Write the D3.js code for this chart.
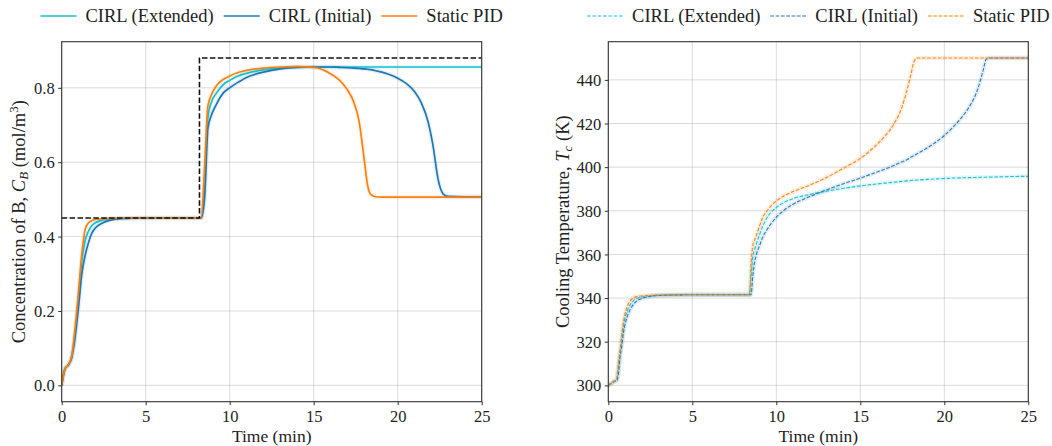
<!DOCTYPE html>
<html><head><meta charset="utf-8">
<script src="https://cdn.jsdelivr.net/npm/d3@7"></script>
<style>
body{margin:0;background:#fff}
svg{display:block}
text{font-family:"Liberation Serif","Times New Roman",serif;fill:#222}
</style>
</head><body>
<svg id="c" width="1052" height="446"></svg>
<script>
// ---------------- data ----------------
const seriesNames = ["CIRL (Extended)", "CIRL (Initial)", "Static PID"];
const seriesColors = ["#17becf", "#1f77b4", "#ff7f0e"];
const xTicks = [0, 5, 10, 15, 20, 25];
const cbTicks = [0.0, 0.2, 0.4, 0.6, 0.8];
const tcTicks = [300, 320, 340, 360, 380, 400, 420, 440];

// Concentration of B (left panel)
const tB = [0, 0.2, 0.4, 0.6, 0.8, 1.0, 1.2, 1.4, 1.6, 1.8, 2.0, 2.4, 2.8, 3.5, 5, 8.3, 8.5, 8.7, 8.9, 9.2, 9.6, 10, 10.5, 11, 12, 13, 14, 15, 16, 16.5, 17, 17.4, 17.7, 18.0, 18.2, 18.4, 18.7, 19, 19.5, 20, 20.5, 21, 21.4, 21.8, 22.1, 22.4, 22.7, 23, 24, 25];
const cbExt = [0, 0.045, 0.055, 0.078, 0.14, 0.24, 0.335, 0.39, 0.415, 0.43, 0.437, 0.444, 0.447, 0.449, 0.45, 0.45, 0.53, 0.72, 0.76, 0.785, 0.808, 0.82, 0.832, 0.839, 0.848, 0.853, 0.855, 0.856, 0.856, 0.856, 0.856, 0.856, 0.856, 0.856, 0.856, 0.856, 0.856, 0.856, 0.856, 0.856, 0.856, 0.856, 0.856, 0.856, 0.856, 0.856, 0.856, 0.856, 0.856, 0.856];
const cbInit = [0, 0.045, 0.055, 0.075, 0.13, 0.21, 0.30, 0.35, 0.385, 0.41, 0.423, 0.436, 0.443, 0.448, 0.45, 0.45, 0.50, 0.69, 0.725, 0.755, 0.785, 0.80, 0.815, 0.828, 0.842, 0.851, 0.855, 0.856, 0.856, 0.855, 0.854, 0.853, 0.852, 0.851, 0.85, 0.849, 0.846, 0.843, 0.836, 0.826, 0.812, 0.79, 0.76, 0.71, 0.645, 0.555, 0.515, 0.508, 0.507, 0.507];
const cbPid = [0, 0.045, 0.055, 0.08, 0.155, 0.25, 0.355, 0.42, 0.437, 0.443, 0.446, 0.448, 0.449, 0.45, 0.45, 0.45, 0.58, 0.75, 0.78, 0.805, 0.822, 0.832, 0.841, 0.847, 0.853, 0.856, 0.857, 0.855, 0.838, 0.822, 0.795, 0.76, 0.71, 0.61, 0.54, 0.513, 0.507, 0.506, 0.506, 0.506, 0.506, 0.506, 0.506, 0.506, 0.506, 0.506, 0.506, 0.506, 0.506, 0.506];
const spT = [0, 8.2, 25];
const spV = [0.45, 0.88, 0.88];

// Cooling temperature (right panel)
const tT = [0, 0.2, 0.4, 0.5, 0.6, 0.7, 0.8, 0.9, 1.0, 1.2, 1.4, 1.6, 2.0, 2.5, 3, 5, 8.4, 8.5, 8.6, 8.7, 8.8, 9.0, 9.2, 9.5, 10, 10.5, 11, 12, 13, 14, 15, 16, 16.5, 17, 17.5, 17.8, 18.0, 18.2, 18.4, 19, 20, 20.5, 21, 21.5, 22, 22.3, 22.5, 22.7, 23, 24, 25];
const tcExt = [300, 301, 302, 302.5, 308, 315, 321, 327, 331, 335.5, 338, 339.5, 340.5, 341, 341.3, 341.5, 341.5, 350, 359, 362, 364.5, 369, 373, 377.5, 381.5, 384, 385.6, 387.5, 389, 390.3, 391.4, 392.3, 392.7, 393.1, 393.5, 393.7, 393.9, 394, 394.1, 394.4, 394.8, 395, 395.1, 395.2, 395.3, 395.4, 395.4, 395.45, 395.5, 395.7, 395.8];
const tcInit = [300, 301, 302, 302, 305, 313, 318, 324, 328, 333, 336, 338, 339.8, 340.8, 341.2, 341.5, 341.5, 341.5, 350, 356, 359.5, 364, 368, 372, 377, 380.5, 383, 386.5, 389.6, 392.4, 395, 397.8, 399.2, 400.8, 402.5, 403.5, 404.5, 405.3, 406.2, 408.9, 414.5, 418.2, 422.5, 427.8, 436, 444, 449.5, 450, 450, 450, 450];
const tcPid = [300, 301, 302, 303, 310, 316, 323, 329, 333, 337.5, 339.5, 340.5, 341, 341.2, 341.4, 341.5, 341.5, 356, 364, 366.5, 368.5, 373, 377, 380.5, 384.5, 387, 388.8, 391.8, 395.3, 399.5, 404, 410.5, 414.5, 419.8, 428, 436, 442, 448.5, 450, 450, 450, 450, 450, 450, 450, 450, 450, 450, 450, 450, 450];

// ---------------- drawing ----------------
const svg = d3.select("#c");

function panel(opt) {
  const g = svg.append("g");
  const x = d3.scaleLinear().domain([0, 25]).range([opt.x0, opt.x1]);
  const y = d3.scaleLinear().domain(opt.yDomain).range([opt.y1, opt.y0]);

  // grid
  g.append("g").selectAll("line").data(xTicks).join("line")
    .attr("x1", d => x(d)).attr("x2", d => x(d)).attr("y1", opt.y0).attr("y2", opt.y1)
    .attr("stroke", "#b0b0b0").attr("stroke-opacity", 0.45).attr("stroke-width", 1);
  g.append("g").selectAll("line").data(opt.yTicks).join("line")
    .attr("x1", opt.x0).attr("x2", opt.x1).attr("y1", d => y(d)).attr("y2", d => y(d))
    .attr("stroke", "#b0b0b0").attr("stroke-opacity", 0.45).attr("stroke-width", 1);

  // axes
  const xa = g.append("g").attr("transform", `translate(0,${opt.y1})`)
    .call(d3.axisBottom(x).tickValues(xTicks).tickFormat(d3.format("d")).tickSize(3.5).tickPadding(4));
  const ya = g.append("g").attr("transform", `translate(${opt.x0},0)`)
    .call(d3.axisLeft(y).tickValues(opt.yTicks).tickFormat(opt.fmt).tickSize(3.5).tickPadding(3.5));
  [xa, ya].forEach(a => {
    a.select(".domain").remove();
    a.selectAll("line").attr("stroke", "#333");
    a.selectAll("text").attr("font-family", "Liberation Serif").attr("font-size", 16.5).attr("fill", "#222");
  });
  xa.selectAll("text").attr("dy", null).attr("y", 20.5);
  ya.selectAll("text").attr("dy", "0.34em");

  const clipId = "clip" + opt.id;
  svg.append("clipPath").attr("id", clipId).append("rect")
    .attr("x", opt.x0).attr("y", opt.y0).attr("width", opt.x1 - opt.x0).attr("height", opt.y1 - opt.y0);
  const plot = g.append("g").attr("clip-path", `url(#${clipId})`);

  const line = d3.line().x(d => x(d[0])).y(d => y(d[1])).curve(d3.curveMonotoneX);

  // faint uncertainty halo
  opt.series.forEach((s, i) => {
    plot.append("path").datum(opt.t.map((t, k) => [t, s[k]]))
      .attr("d", line).attr("fill", "none").attr("stroke", seriesColors[i])
      .attr("stroke-opacity", opt.halo).attr("stroke-width", 4.5).attr("stroke-linejoin", "round");
  });
  opt.series.forEach((s, i) => {
    plot.append("path").datum(opt.t.map((t, k) => [t, s[k]]))
      .attr("d", line).attr("fill", "none").attr("stroke", seriesColors[i])
      .attr("stroke-width", opt.lw).attr("stroke-dasharray", opt.dash)
      .attr("stroke-opacity", opt.alpha).attr("stroke-linejoin", "round");
  });
  if (opt.setpoint) {
    plot.append("path").datum(spT.map((t, k) => [t, spV[k]]))
      .attr("d", d3.line().x(d => x(d[0])).y(d => y(d[1])).curve(d3.curveStepAfter))
      .attr("fill", "none").attr("stroke", "#111").attr("stroke-width", 1.6)
      .attr("stroke-dasharray", "5.5,2.4");
  }

  // frame
  g.append("rect").attr("x", opt.x0).attr("y", opt.y0)
    .attr("width", opt.x1 - opt.x0).attr("height", opt.y1 - opt.y0)
    .attr("fill", "none").attr("stroke", "#333").attr("stroke-width", 1.1);

  // x label
  g.append("text").attr("x", (opt.x0 + opt.x1) / 2).attr("y", 441.5)
    .attr("text-anchor", "middle").attr("font-size", 17.5).text("Time (min)");

  // y label
  const yl = g.append("text")
    .attr("transform", `translate(${opt.ylx},${(opt.y0 + opt.y1) / 2}) rotate(-90)`)
    .attr("text-anchor", "middle").attr("font-size", 18.5);
  opt.ylabel(yl);

  // legend
  const lg = g.append("g");
  let cx = 0;
  seriesNames.forEach((n, i) => {
    const it = lg.append("g").attr("transform", `translate(${cx},0)`);
    it.append("line").attr("x1", 0).attr("x2", 36).attr("y1", 0).attr("y2", 0)
      .attr("stroke", seriesColors[i]).attr("stroke-width", opt.lw)
      .attr("stroke-dasharray", opt.dash);
    const tx = it.append("text").attr("x", 45).attr("y", 6).attr("font-size", 18.5).text(n);
    const w = 45 + tx.node().getComputedTextLength();
    cx += w + 10;
  });
  const total = cx - 10;
  lg.attr("transform", `translate(${(opt.x0 + opt.x1) / 2 - total / 2},16)`);
}

panel({
  id: "L", x0: 61.7, x1: 481.7, y0: 41.7, y1: 401.7,
  yDomain: [-0.044, 0.924], yTicks: cbTicks, fmt: d3.format(".1f"),
  t: tB, series: [cbExt, cbInit, cbPid], lw: 1.7, dash: null, alpha: 1, halo: 0.1,
  setpoint: true, ylx: 25,
  ylabel: t => {
    t.append("tspan").text("Concentration of B, ");
    t.append("tspan").attr("font-style", "italic").text("C");
    t.append("tspan").attr("font-style", "italic").attr("font-size", 13).attr("dy", 3).text("B");
    t.append("tspan").attr("dy", -3).text(" (mol/m");
    t.append("tspan").attr("font-size", 13).attr("dy", -7).text("3");
    t.append("tspan").attr("dy", 7).text(")");
  }
});

panel({
  id: "R", x0: 608.3, x1: 1028.3, y0: 41.7, y1: 401.7,
  yDomain: [292.5, 457.5], yTicks: tcTicks, fmt: d3.format("d"),
  t: tT, series: [tcExt, tcInit, tcPid], lw: 1.1, dash: "3.7,1.6", alpha: 0.95, halo: 0.12,
  setpoint: false, ylx: 569,
  ylabel: t => {
    t.append("tspan").text("Cooling Temperature, ");
    t.append("tspan").attr("font-style", "italic").text("T");
    t.append("tspan").attr("font-style", "italic").attr("font-size", 13).attr("dy", 3).text("c");
    t.append("tspan").attr("dy", -3).text(" (K)");
  }
});
</script>
</body></html>
